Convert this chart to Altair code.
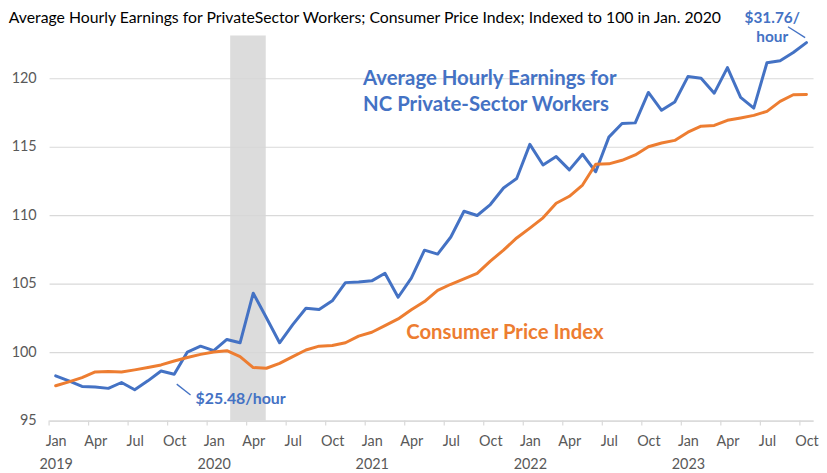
import altair as alt
import pandas as pd

# ---- data (monthly, Jan 2019 .. Oct 2023), indexed to 100 in Jan 2020 ----
month_abbr = ["Jan", "Apr", "Jul", "Oct"]
first_year = 2019

earnings = [98.26, 97.90, 97.49, 97.45, 97.35, 97.78, 97.25, 97.90, 98.62, 98.38,
            100.00, 100.43, 100.10, 100.92, 100.68, 104.30, 102.50, 100.68, 102.00, 103.20,
            103.10, 103.74, 105.07, 105.12, 105.20, 105.75, 104.00, 105.40, 107.44, 107.15,
            108.40, 110.28, 109.97, 110.77, 111.98, 112.67, 115.16, 113.66, 114.27, 113.30,
            114.44, 113.16, 115.69, 116.68, 116.73, 118.95, 117.65, 118.25, 120.11, 119.99,
            118.90, 120.76, 118.59, 117.81, 121.12, 121.27, 121.87, 122.59]

cpi = [97.54, 97.83, 98.14, 98.55, 98.58, 98.55, 98.70, 98.87, 99.06, 99.35,
       99.60, 99.83, 100.00, 100.10, 99.67, 98.87, 98.82, 99.18, 99.67, 100.15,
       100.43, 100.48, 100.68, 101.16, 101.45, 101.93, 102.42, 103.09, 103.69, 104.50,
       104.95, 105.34, 105.75, 106.64, 107.44, 108.33, 109.05, 109.80, 110.86, 111.37,
       112.19, 113.71, 113.74, 114.00, 114.39, 114.99, 115.26, 115.45, 116.05, 116.49,
       116.54, 116.92, 117.09, 117.28, 117.57, 118.30, 118.78, 118.80]

series_names = ["Earnings", "CPI"]
series_colors = ["#4472C4", "#ED7D31"]

title_text = ("Average Hourly Earnings for PrivateSector Workers; "
              "Consumer Price Index; Indexed to 100 in Jan. 2020")

n = len(earnings)
df = pd.DataFrame({"i": list(range(n)), "Earnings": earnings, "CPI": cpi})
long_df = df.melt("i", var_name="series", value_name="value")

W, H = 770, 388
FONT = "Lato"
xscale = alt.Scale(domain=[-0.5, n - 0.5], nice=False, zero=False)
yscale = alt.Scale(domain=[95, 123.1], nice=False, zero=False)

label_expr = ("datum.value % 12 == 0 ? ['Jan', '' + (" + str(first_year) +
              " + datum.value / 12)] : "
              "(datum.value % 12 == 3 ? 'Apr' : (datum.value % 12 == 6 ? 'Jul' : 'Oct'))")

xaxis = alt.Axis(values=list(range(0, n, 3)), labelExpr=label_expr,
                 ticks=False, grid=False, domainColor="#d9d9d9", domainWidth=1.2,
                 labelFontSize=14.5, labelColor="#595959", labelFont=FONT,
                 labelPadding=14, labelLineHeight=23, labelFlush=False,
                 labelOverlap=False, title=None)
yaxis = alt.Axis(values=[95, 100, 105, 110, 115, 120], ticks=False,
                 domain=False, gridColor="#d9d9d9", gridWidth=1.2,
                 labelFontSize=14.5, labelColor="#595959", labelFont=FONT,
                 labelPadding=13, title=None)

# recession shading
band = alt.Chart(pd.DataFrame({"s": [13.25], "e": [15.95]})).mark_rect(
    color="#d6d6d6", opacity=0.85
).encode(
    x=alt.X("s:Q", scale=xscale, axis=xaxis),
    x2="e:Q",
    y=alt.value(0),
    y2=alt.value(H),
)

lines = alt.Chart(long_df).mark_line(
    strokeWidth=3, strokeJoin="round", strokeCap="round"
).encode(
    x=alt.X("i:Q", scale=xscale, axis=xaxis),
    y=alt.Y("value:Q", scale=yscale, axis=yaxis),
    color=alt.Color("series:N", scale=alt.Scale(domain=series_names, range=series_colors),
                    legend=None),
    detail="series:N",
)

ticks = alt.Chart(pd.DataFrame({"t": [-0.5 + 3 * k for k in range(20)]})).mark_rule(
    color="#d9d9d9", strokeWidth=1.2
).encode(
    x=alt.X("t:Q", scale=xscale, axis=xaxis),
    y=alt.value(H),
    y2=alt.value(H + 5),
)

big_labels = pd.DataFrame({
    "x": [23.34, 23.34, 26.61],
    "y": [119.96, 118.06, 101.4],
    "text": ["Average Hourly Earnings for", "NC Private-Sector Workers", "Consumer Price Index"],
    "series": ["Earnings", "Earnings", "CPI"],
})
big_text = alt.Chart(big_labels).mark_text(
    align="left", baseline="middle", fontSize=20.5, fontWeight="bold", font=FONT
).encode(
    x=alt.X("x:Q", scale=xscale, axis=xaxis),
    y=alt.Y("y:Q", scale=yscale, axis=yaxis),
    text="text:N",
    color=alt.Color("series:N", scale=alt.Scale(domain=series_names, range=series_colors),
                    legend=None),
)

small_labels = pd.DataFrame({
    "x": [10.62, 54.4, 54.4],
    "y": [96.57, 124.35, 123.0],
    "text": ["$25.48/hour", "$31.76/", "hour"],
})
small_left = alt.Chart(small_labels.iloc[[0]]).mark_text(
    align="left", baseline="middle", fontSize=16, fontWeight="bold", font=FONT,
    color="#4472C4"
).encode(
    x=alt.X("x:Q", scale=xscale, axis=xaxis),
    y=alt.Y("y:Q", scale=yscale, axis=yaxis),
    text="text:N",
)
small_center = alt.Chart(small_labels.iloc[1:]).mark_text(
    align="center", baseline="middle", fontSize=15.5, fontWeight="bold", font=FONT,
    color="#4472C4"
).encode(
    x=alt.X("x:Q", scale=xscale, axis=xaxis),
    y=alt.Y("y:Q", scale=yscale, axis=yaxis),
    text="text:N",
)

leaders = alt.Chart(pd.DataFrame({
    "x": [9.19, 55.6], "y": [97.66, 123.75], "x2": [10.24, 56.9], "y2": [96.86, 122.95]
})).mark_rule(color="#4472C4", strokeWidth=1.3).encode(
    x=alt.X("x:Q", scale=xscale, axis=xaxis),
    y=alt.Y("y:Q", scale=yscale, axis=yaxis),
    x2="x2:Q",
    y2="y2:Q",
)

title = alt.Chart(pd.DataFrame({"t": [title_text]})).mark_text(
    align="left", baseline="middle", fontSize=15.9, font=FONT, color="#000000"
).encode(
    text="t:N",
    x=alt.value(-40.6),
    y=alt.value(-18),
)

chart = alt.layer(
    band, ticks, lines, leaders, big_text, small_left, small_center, title
).properties(
    width=W, height=H,
    autosize=alt.AutoSizeParams(type="none"),
    padding={"left": 41.4, "top": 26, "right": 6, "bottom": 49},
    background="white",
).configure_view(stroke=None)

chart.save("out.html", embed_options={"renderer": "svg", "actions": False})
